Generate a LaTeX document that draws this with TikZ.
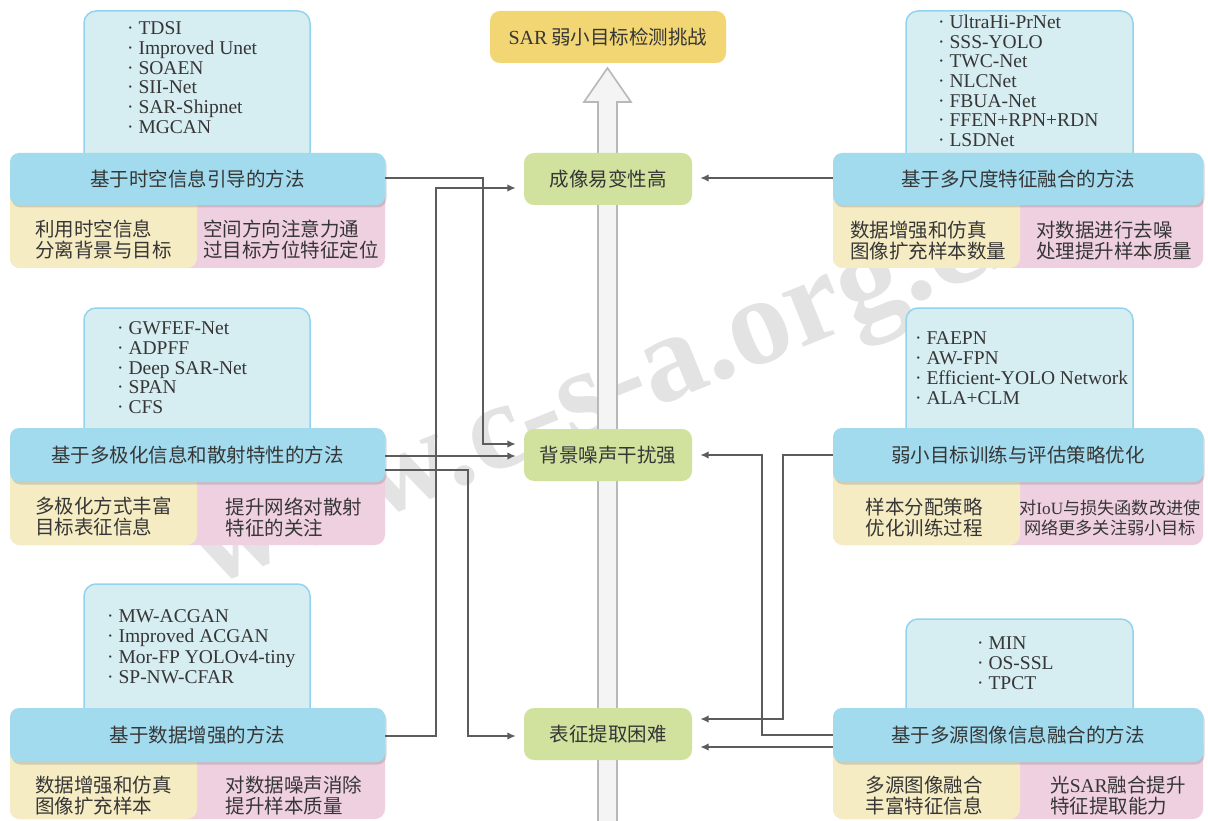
\documentclass[tikz,border=0pt]{standalone}
\usepackage{fontspec}
\setmainfont{Liberation Serif}
\newfontfamily\cjk{Noto Sans CJK SC}
\usetikzlibrary{arrows.meta,shadows}
\definecolor{lineC}{HTML}{5C5C5C}
\definecolor{hdrC}{HTML}{A3DBEE}
\definecolor{listC}{HTML}{D6EDF2}
\definecolor{listB}{HTML}{92D3EE}
\definecolor{yelC}{HTML}{F6ECC4}
\definecolor{pinkC}{HTML}{EFD0E1}
\definecolor{grnC}{HTML}{D0E29E}
\definecolor{topC}{HTML}{F2D673}
\definecolor{txtC}{HTML}{363636}
\definecolor{arrF}{HTML}{F4F4F4}
\definecolor{arrD}{HTML}{B8B8B8}
\begin{document}
\begin{tikzpicture}[x=1pt,y=-1pt,
  listbox/.style={fill=listC,draw=listB,line width=1.5pt,rounded corners=12pt},
  hdr/.style={fill=hdrC,rounded corners=9pt,inner sep=0pt,text=txtC,
    font=\cjk\fontsize{19.5}{21}\selectfont,
    drop shadow={opacity=0.3,shadow xshift=1.5pt,shadow yshift=-2.5pt}},
  sub/.style={align=left,inner sep=0pt,text=txtC,font=\cjk\fontsize{19.5}{21}\selectfont},
  lst/.style={anchor=base west,inner sep=0pt,text=txtC,font=\fontsize{19.5}{20}\selectfont},
  gbox/.style={fill=grnC,rounded corners=10pt,minimum width=168pt,minimum height=52pt,
    inner sep=0pt,text=txtC,font=\cjk\fontsize{19.5}{21}\selectfont},
  conn/.style={draw=lineC,line width=2.3pt,-{Latex[length=8.5pt,width=7.5pt]},shorten >=8pt}
]
\useasboundingbox (0,0) rectangle (1208,821);
\fill[white] (0,0) rectangle (1208,821);

% watermark
\node[rotate=22,text=black!11,font=\bfseries\fontsize{125}{125}\selectfont] (wm) at (625,400) {www.c-s-a.org.cn};

% big arrow
\draw[fill=arrF,draw=arrD,line width=1.6pt,line join=miter]
  (598,823) -- (598,102) -- (584,102) -- (607.5,68) -- (631,102) -- (617,102) -- (617,823);

% top box
\node[fill=topC,rounded corners=10pt,minimum width=236pt,minimum height=52pt,inner sep=0pt,
  text=txtC,font=\cjk\fontsize{19.5}{21}\selectfont] (top) at (608,37)
  {{\rmfamily\fontsize{20}{21}\selectfont SAR}\hspace{4pt}弱小目标检测挑战};

% ---------- Left group 1
\draw[listbox] (84,11) rectangle (310,179);
\fill[pinkC,rounded corners=10pt] (10,179) rectangle (385,268);
\fill[yelC,rounded corners=10pt] (10,179) rectangle (197,268);
\node[hdr,minimum width=375pt,minimum height=52pt] (L1h) at (197.5,179) {基于时空信息引导的方法};
\node[sub] (L1y) at (103.5,239.5) {利用时空信息\\分离背景与目标};
\node[sub] (L1p) at (291,239.5) {空间方向注意力通\\过目标方位特征定位};
\foreach \t [count=\i] in {TDSI,Improved Unet,SOAEN,SII-Net,SAR-Shipnet,MGCAN}
  \node[lst] (L1t\i) at (127,34.5+19.8*\i-19.8) {· \t};

% ---------- Left group 2
\draw[listbox] (84,308) rectangle (310,455);
\fill[pinkC,rounded corners=10pt] (10,455) rectangle (385,545);
\fill[yelC,rounded corners=10pt] (10,455) rectangle (197,545);
\node[hdr,minimum width=375pt,minimum height=54pt] (L2h) at (197.5,455) {基于多极化信息和散射特性的方法};
\node[sub] (L2y) at (103.5,517) {多极化方式丰富\\目标表征信息};
\node[sub] (L2p) at (294,517) {提升网络对散射\\特征的关注};
\foreach \t [count=\i] in {GWFEF-Net,ADPFF,Deep SAR-Net,SPAN,CFS}
  \node[lst] (L2t\i) at (117,334.5+19.75*\i-19.75) {· \t};

% ---------- Left group 3
\draw[listbox] (84,584) rectangle (310,735);
\fill[pinkC,rounded corners=10pt] (10,735) rectangle (385,819);
\fill[yelC,rounded corners=10pt] (10,735) rectangle (197,819);
\node[hdr,minimum width=375pt,minimum height=54pt] (L3h) at (197.5,735) {基于数据增强的方法};
\node[sub] (L3y) at (103.5,796) {数据增强和仿真\\图像扩充样本};
\node[sub] (L3p) at (294,796) {对数据噪声消除\\提升样本质量};
\foreach \t [count=\i] in {MW-ACGAN,Improved ACGAN,Mor-FP YOLOv4-tiny,SP-NW-CFAR}
  \node[lst] (L3t\i) at (107,622.5+20.3*\i-20.3) {· \t};

% ---------- Right group 1
\draw[listbox] (906,11) rectangle (1133,179);
\fill[pinkC,rounded corners=10pt] (833,179) rectangle (1203,268);
\fill[yelC,rounded corners=10pt] (833,179) rectangle (1020,268);
\node[hdr,minimum width=370pt,minimum height=52pt] (R1h) at (1018,179) {基于多尺度特征融合的方法};
\node[sub] (R1y) at (928,240.5) {数据增强和仿真\\图像扩充样本数量};
\node[sub] (R1p) at (1114,240.5) {对数据进行去噪\\处理提升样本质量};
\foreach \t [count=\i] in {UltraHi-PrNet,SSS-YOLO,TWC-Net,NLCNet,FBUA-Net,FFEN+RPN+RDN,LSDNet}
  \node[lst] (R1t\i) at (938,28.5+19.7*\i-19.7) {· \t};

% ---------- Right group 2
\draw[listbox] (906,308) rectangle (1133,455);
\fill[pinkC,rounded corners=10pt] (833,455) rectangle (1203,545);
\fill[yelC,rounded corners=10pt] (833,455) rectangle (1020,545);
\node[hdr,minimum width=370pt,minimum height=54pt] (R2h) at (1018,455) {弱小目标训练与评估策略优化};
\node[sub] (R2y) at (924,518) {样本分配策略\\优化训练过程};
\node[sub,align=center,font=\cjk\fontsize{17.2}{20}\selectfont] (R2p) at (1110,518)
  {对{\rmfamily IoU}与损失函数改进使\\网络更多关注弱小目标};
\foreach \t [count=\i] in {FAEPN,AW-FPN,Efficient-YOLO Network,ALA+CLM}
  \node[lst] (R2t\i) at (915,344.5+20*\i-20) {· \t};

% ---------- Right group 3
\draw[listbox] (906,619) rectangle (1133,735);
\fill[pinkC,rounded corners=10pt] (833,735) rectangle (1203,819);
\fill[yelC,rounded corners=10pt] (833,735) rectangle (1020,819);
\node[hdr,minimum width=370pt,minimum height=54pt] (R3h) at (1018,735) {基于多源图像信息融合的方法};
\node[sub] (R3y) at (924,796) {多源图像融合\\丰富特征信息};
\node[sub] (R3p) at (1118,796) {光{\rmfamily SAR}融合提升\\特征提取能力};
\foreach \t [count=\i] in {MIN,OS-SSL,TPCT}
  \node[lst] (R3t\i) at (977,649.5+20*\i-20) {· \t};

% ---------- challenge boxes
\node[gbox] (G1) at (608,179) {成像易变性高};
\node[gbox] (G2) at (608,455) {背景噪声干扰强};
\node[gbox] (G3) at (608,734) {表征提取困难};

% ---------- connectors (left)
\draw[conn] ([yshift=1pt]L1h.east) -- ++(98,0) |- ([yshift=11pt]G2.west);
\draw[conn] ([yshift=-1pt]L2h.east) -- ([yshift=-1pt]G2.west);
\draw[conn] ([yshift=-15pt]L2h.east) -- ++(83,0) |- ([yshift=-2pt]G3.west);
\draw[conn] ([yshift=-1pt]L3h.east) -- ++(51,0) |- ([yshift=-9pt]G1.west);
% ---------- connectors (right)
\draw[conn] ([yshift=1pt]R1h.west) -- ([yshift=1pt]G1.east);
\draw[conn] (R2h.west) -- ++(-50,0) |- ([yshift=15pt]G3.east);
\draw[conn] (R3h.west) -- ++(-71,0) |- (G2.east);
\draw[conn] ([yshift=-12pt]R3h.west) -- ([yshift=-13pt]G3.east);
\end{tikzpicture}
\end{document}
